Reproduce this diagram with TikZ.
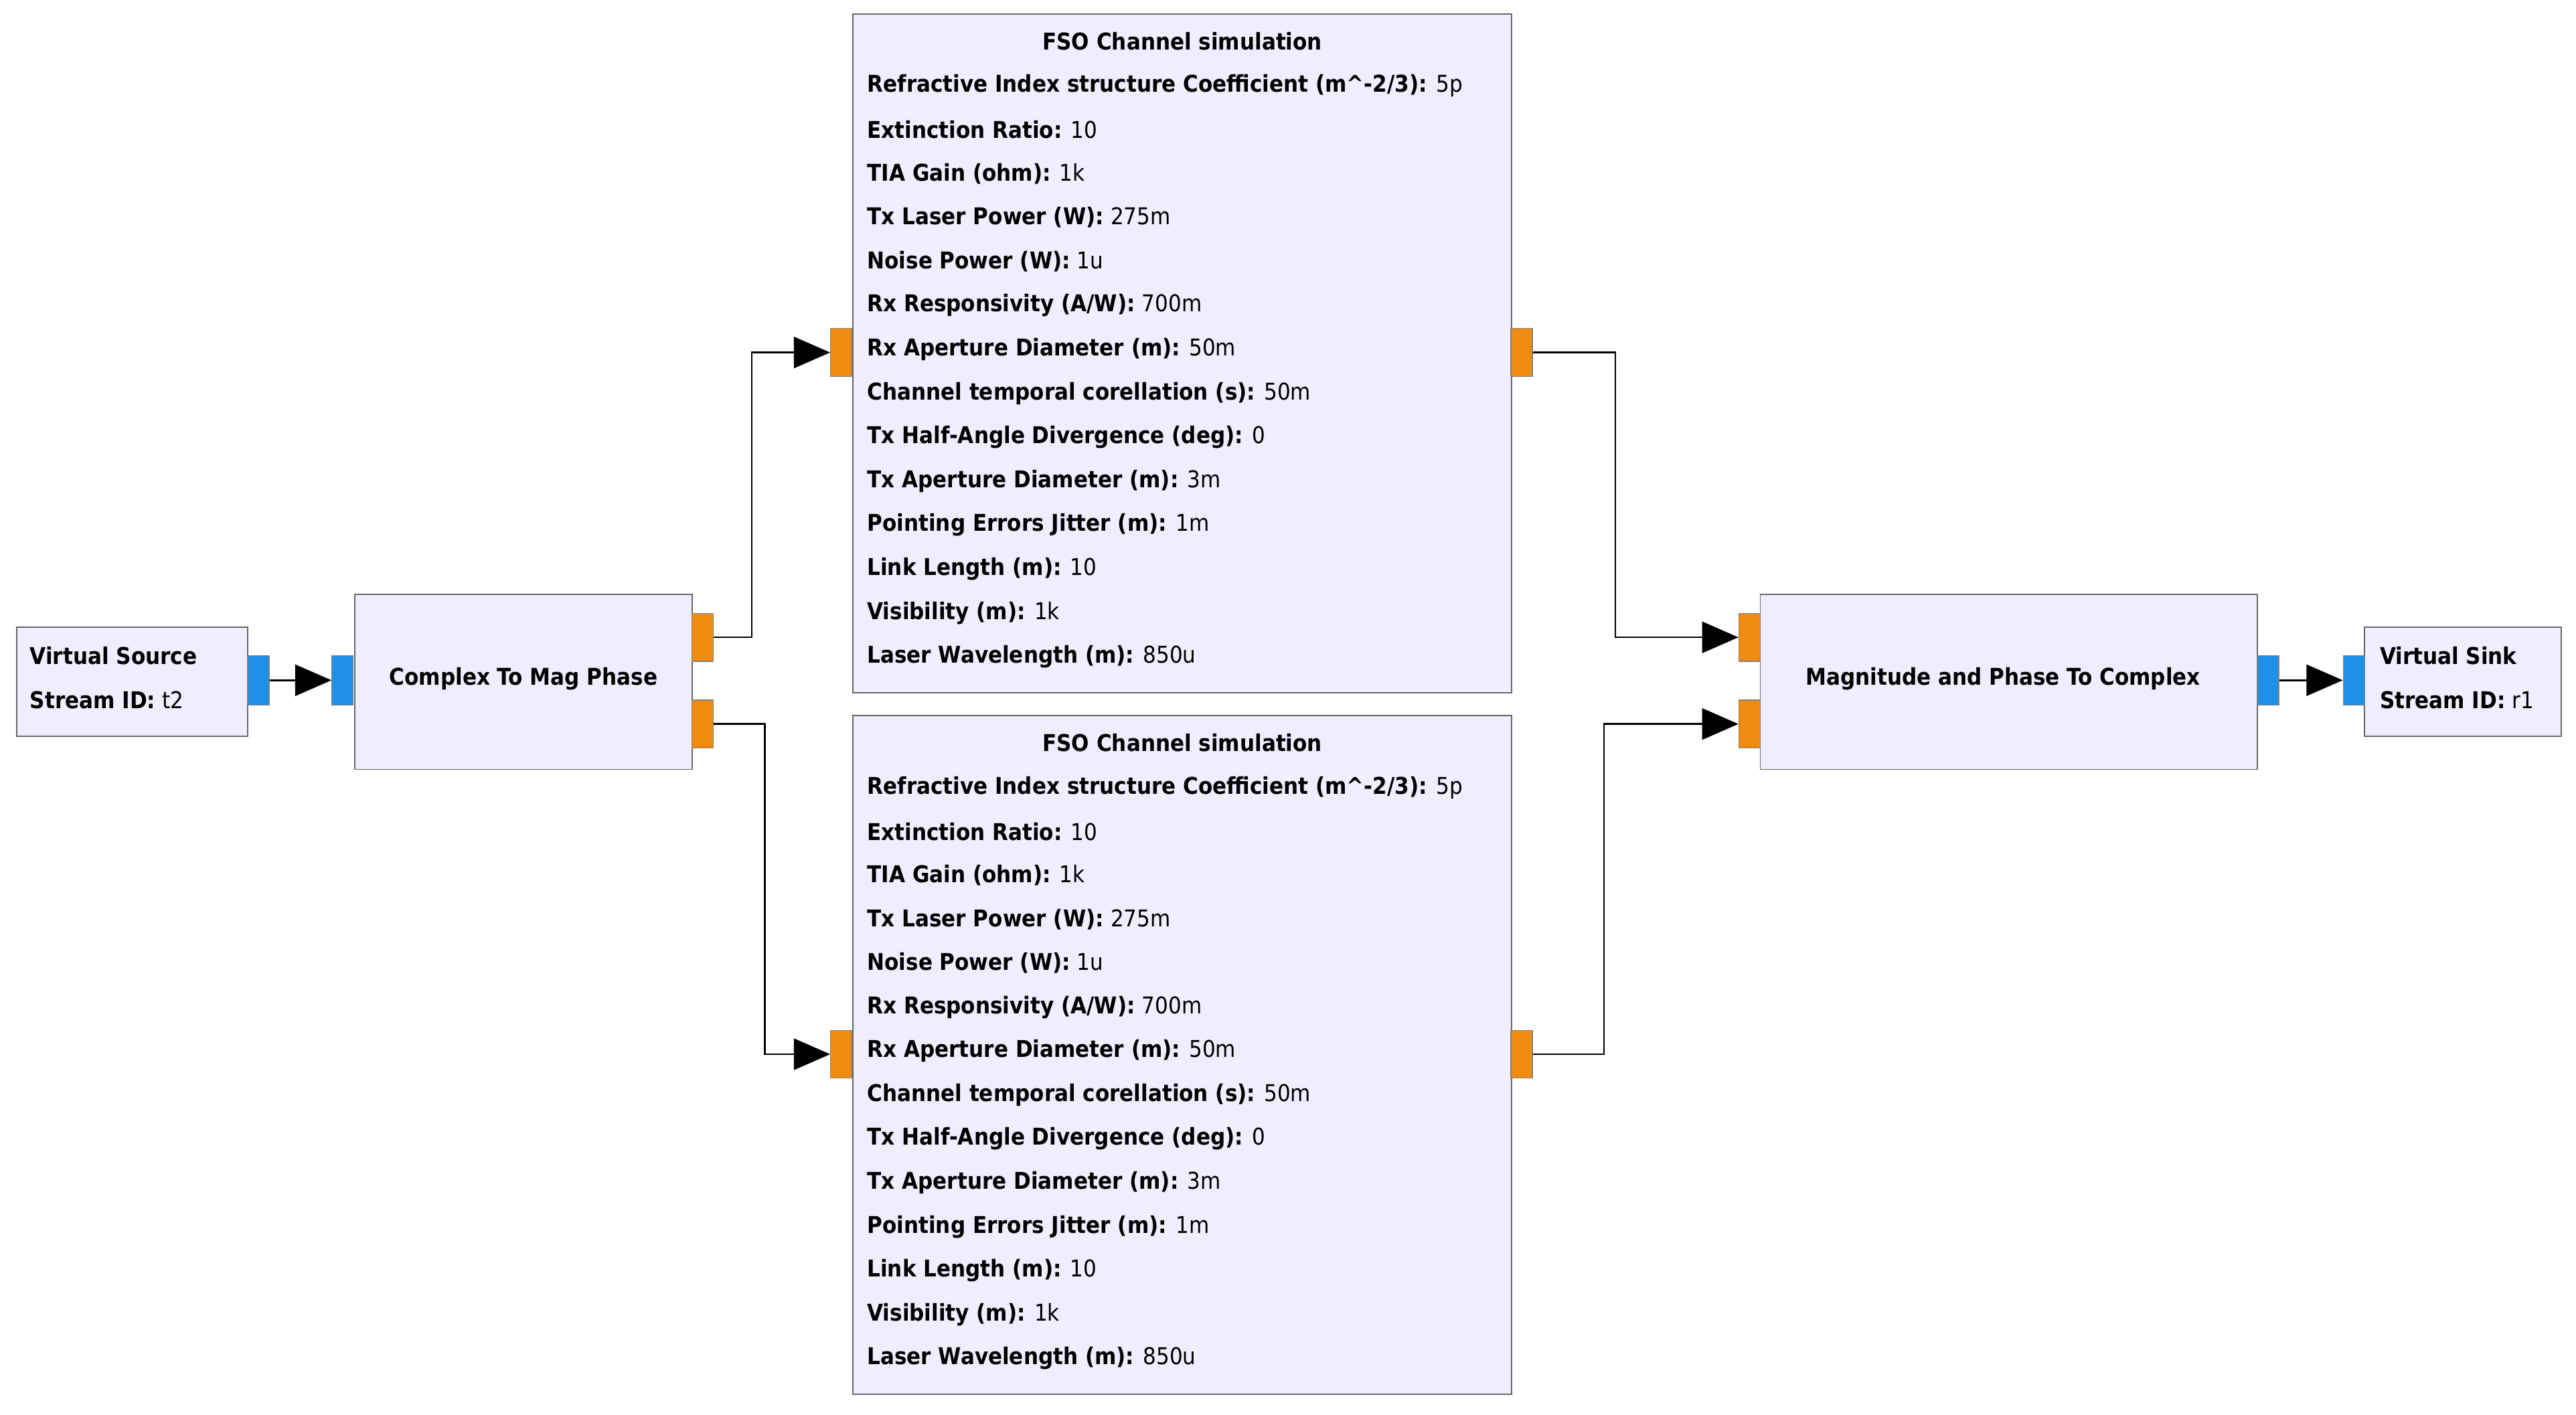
\documentclass[tikz,border=0pt]{standalone}
\usepackage{fontspec}
\setmainfont{DejaVu Sans Condensed}
\usetikzlibrary{arrows.meta}
\definecolor{blk}{HTML}{EEEEFF}
\definecolor{por}{HTML}{F08A10}
\definecolor{pbl}{HTML}{1E90E8}
\begin{document}
\begin{tikzpicture}[x=1pt,y=-1pt,
 block/.style={draw=black!60,fill=blk,line width=0.8pt},
 oport/.style={draw=black!50,fill=por,minimum width=13pt,minimum height=29pt,inner sep=0pt,line width=0.5pt},
 bport/.style={draw=black!50,fill=pbl,minimum width=13pt,minimum height=30pt,inner sep=0pt,line width=0.5pt},
 wire/.style={line width=1pt,-{Triangle[length=22pt,width=19pt]}},
 txt/.style={anchor=west,inner sep=0pt,font=\fontsize{14}{17}\selectfont},
 ttl/.style={inner sep=0pt,font=\fontsize{14}{17}\selectfont\bfseries}]
\useasboundingbox (0,0) rectangle (1560,857);
% blocks
\node[block,minimum width=140pt,minimum height=66pt,inner sep=0pt] (vs) at (80,413) {};
\node[txt] (vst1) at (18,397) {\textbf{Virtual Source}};
\node[txt] (vst2) at (18,424) {\textbf{Stream ID:} t2};
\node[bport] (vsp) at (156.5,412) {};
\node[block,minimum width=204pt,minimum height=106pt,inner sep=0pt] (cm) at (317,413) {};
\node[ttl] (cmt) at (317,411) {Complex To Mag Phase};
\node[bport] (cmi) at (207.5,412) {};
\node[oport] (cmo1) at (425.5,386) {};
\node[oport] (cmo2) at (425.5,438.5) {};
\node[block,minimum width=301pt,minimum height=106pt,inner sep=0pt] (mp) at (1216.5,413) {};
\node[ttl] (mpt) at (1213,411) {Magnitude and Phase To Complex};
\node[oport] (mpi1) at (1059.5,386) {};
\node[oport] (mpi2) at (1059.5,438.5) {};
\node[bport] (mpo) at (1373.5,412) {};
\node[block,minimum width=119pt,minimum height=66pt,inner sep=0pt] (vk) at (1491.5,413) {};
\node[txt] (vkt1) at (1441,397) {\textbf{Virtual Sink}};
\node[txt] (vkt2) at (1441,424) {\textbf{Stream ID:} r1};
\node[bport] (vkp) at (1425.5,412) {};
% FSO blocks
\foreach \n/\y in {a/8,b/433}{
 \node[block,minimum width=399pt,minimum height=411pt,inner sep=0pt,anchor=north west] (fso\n) at (516,\y) {};
 \node[ttl] (fso\n t) at (716,\y+17) {FSO Channel simulation};
 \foreach \k/\l/\v in {0/{Refractive Index structure Coefficient (m\^{}-2/3)}/5p,1/Extinction Ratio/10,2/TIA Gain (ohm)/1k,3/Tx Laser Power (W)/275m,4/Noise Power (W)/1u,5/{Rx Responsivity (A/W)}/700m,6/Rx Aperture Diameter (m)/50m,7/Channel temporal corellation (s)/50m,8/Tx Half-Angle Divergence (deg)/0,9/Tx Aperture Diameter (m)/3m,10/Pointing Errors Jitter (m)/1m,11/Link Length (m)/10,12/Visibility (m)/1k,13/Laser Wavelength (m)/850u}{
  \node[txt] (fso\n l\k) at (525,\y+44+26.6*\k) {\textbf{\l:} \v};
 }
 \node[oport] (fso\n i) at (509.5,\y+205.5) {};
 \node[oport] (fso\n o) at (921.5,\y+205.5) {};
}
% wires
\draw[wire] (vsp.east) -- (cmi.west);
\draw[wire] (cmo1.east) -- ++(23,0) |- (fsoai.west);
\draw[wire] (cmo2.east) -- ++(31,0) |- (fsobi.west);
\draw[wire] (fsoao.east) -- ++(50,0) |- (mpi1.west);
\draw[wire] (fsobo.east) -- ++(43,0) |- (mpi2.west);
\draw[wire] (mpo.east) -- (vkp.west);
\end{tikzpicture}
\end{document}
